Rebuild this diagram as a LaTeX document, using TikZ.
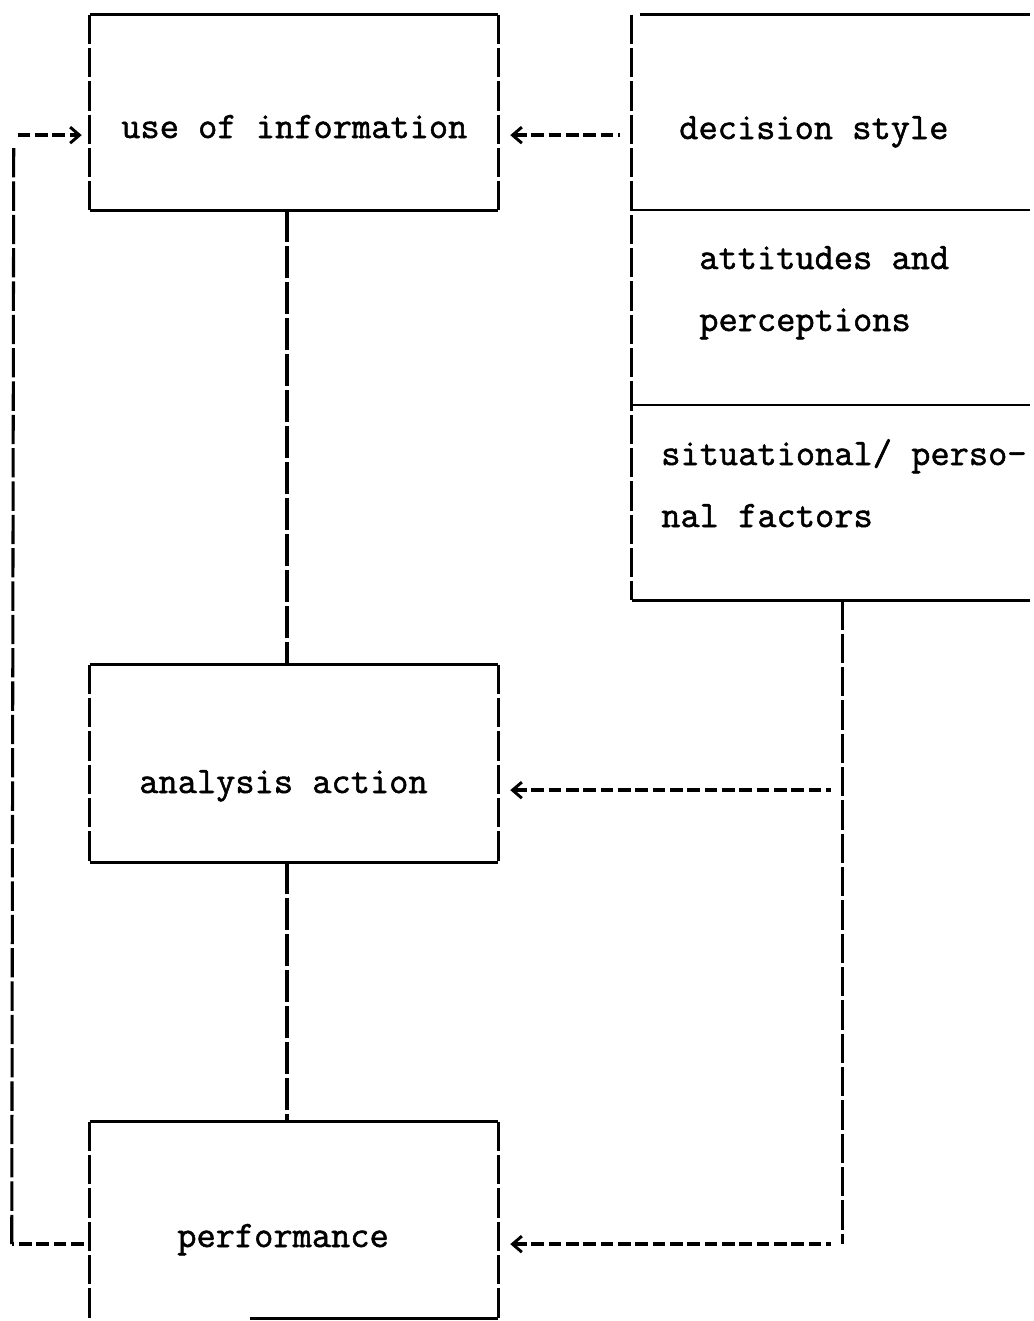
\documentclass[tikz,border=0pt]{standalone}
\usepackage{fontspec}
\newfontfamily\typer{Latin Modern Mono}[FakeBold=1.4]
\usetikzlibrary{arrows.meta,fit,calc}
\begin{document}
\begin{tikzpicture}[x=0.75pt,y=-0.75pt,
  txt/.style={font=\typer\fontsize{28}{32}\selectfont, inner sep=0pt, anchor=base west},
  frame/.style={inner sep=0pt, rectangle},
  side/.style={line width=2.3pt, dash pattern=on 22pt off 3pt},
  rule/.style={line width=2pt},
  link/.style={line width=2.3pt, dash pattern=on 24pt off 3pt},
  flow/.style={line width=2.6pt, dash pattern=on 9.5pt off 3.5pt},
  barb/.tip={Straight Barb[length=7pt,width=12pt,line width=2.2pt]},
  tip/.style={{barb}-},
]
\useasboundingbox (0,0) rectangle (1034,1321);

% boxes
\node[frame, fit={(90,15) (498,210)}]   (info) {};
\node[frame, fit={(90,665) (498,862)}]  (ana)  {};
\node[frame, fit={(90,1122) (498,1318)}] (perf) {};
\node[frame, fit={(632,15) (1030,600)}] (dec)  {};

% texts
\node[txt] (infotext) at (121,138) {use of information};
\node[txt] (anatext)  at (139,793) {analysis action};
\node[txt] (perftext) at (177,1247) {performance};
\node[txt] (dectext)  at (679,139) {decision style};
\node[txt] (atttext)  at (699,269) {attitudes and};
\node[txt] (pertext)  at (699,331) {perceptions};
\node[txt] (sittext)  at (661,465) {situational/ perso-};
\node[txt] (naltext)  at (661,527) {nal factors};

% frames of the three process boxes
\foreach \b in {info,ana} {
  \draw[side] (\b.north west) -- (\b.south west);
  \draw[side] (\b.north east) -- (\b.south east);
  \draw[rule] (\b.north west) -- (\b.north east);
  \draw[rule] (\b.south west) -- (\b.south east);
}
\draw[side] (perf.north west) -- (perf.south west);
\draw[side] (perf.north east) -- (perf.south east);
\draw[rule] (perf.north west) -- (perf.north east);
\draw[rule] (perf.south east) -- ($(perf.south east)+(-248,0)$);

% stacked factor box, open on the right
\draw[side] (dec.north west) -- (dec.south west);
\draw[rule] ($(dec.north west)+(8,0)$) -- (dec.north east);
\draw[rule] (dec.west |- 0,210) -- (dec.east |- 0,210);
\draw[rule] (dec.west |- 0,405) -- (dec.east |- 0,405);
\draw[rule] (dec.south west) -- (dec.south east);

% main chain
\draw[link] ($(info.south)+(-7,0)$) -- ($(ana.north)+(-7,0)$);
\draw[link] ($(ana.south)+(-7,0)$) -- ($(perf.north)+(-7,0)$);

% influence of the factors
\draw[flow,tip] ($(info.east |- infotext.mid)+(12,0)$) -- ($(dec.west |- infotext.mid)+(-12,0)$);
\coordinate (drop) at ($(dec.south west)+(211,0)$);
\coordinate (turn) at (drop |- perftext.mid);
\draw[side] (drop) -- (turn);
\draw[flow,tip] ($(ana.east |- anatext.mid)+(12,0)$) -- ($(drop |- anatext.mid)+(-12,0)$);
\draw[flow,tip] ($(perf.east |- perftext.mid)+(12,0)$) -- ($(turn)+(-12,0)$);

% feedback from performance to use of information
\coordinate (fbbot) at ($(perf.west |- perftext.mid)+(-78,0)$);
\coordinate (fbtop) at ($(info.west |- infotext.mid)+(-76,0)$);
\draw[flow] ($(perf.west |- perftext.mid)+(-6,0)$) -- (fbbot);
\draw[side] (fbbot) -- ($(fbtop)+(0,12)$);
\draw[flow,-{barb}] ($(fbtop)+(4,0)$) -- ($(info.west |- infotext.mid)+(-8,0)$);
\end{tikzpicture}
\end{document}
